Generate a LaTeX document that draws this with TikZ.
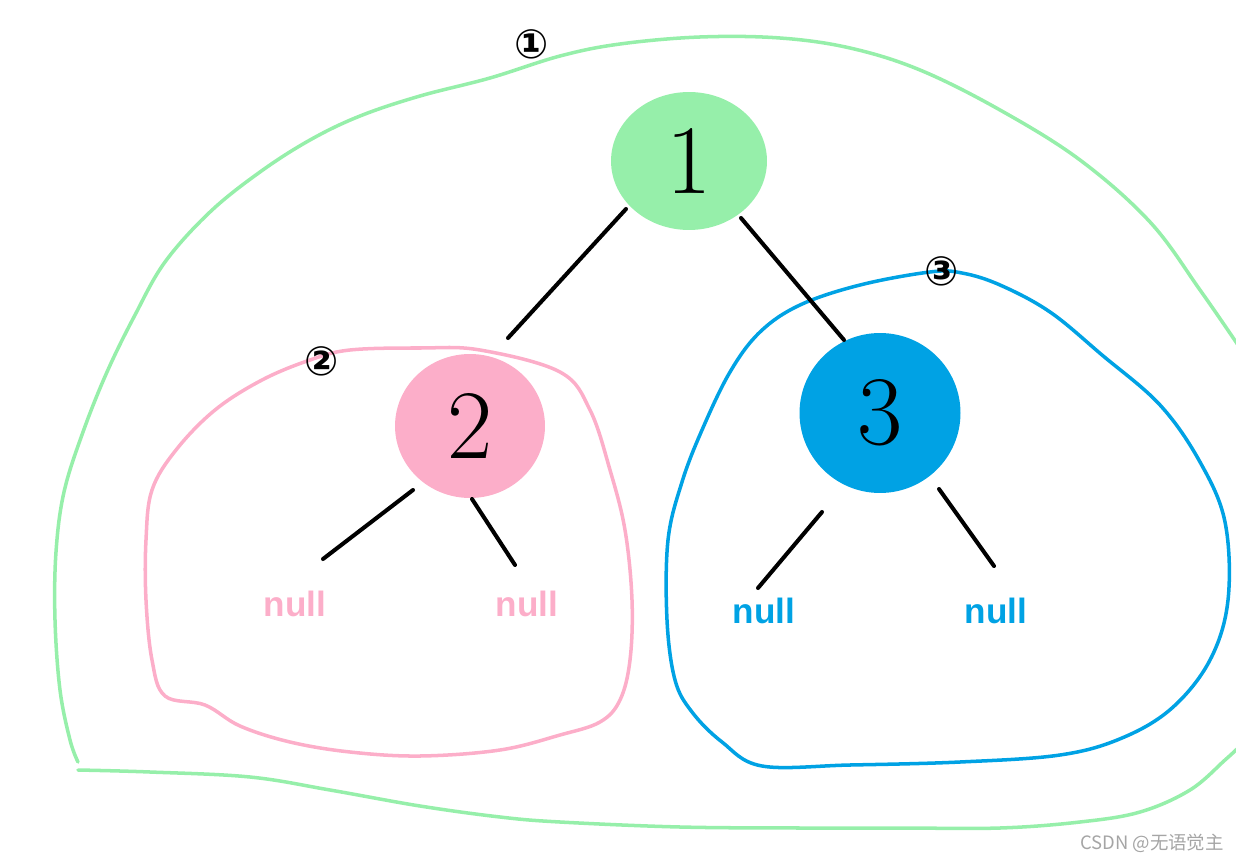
\documentclass[tikz,border=0pt]{standalone}
\usepackage{fontspec}
\usetikzlibrary{shapes.geometric}
\newfontfamily\leaffont{Liberation Sans}
\newfontfamily\cjkfont{Noto Sans CJK SC}
\newfontfamily\symfont{DejaVu Sans}
\definecolor{treegreen}{RGB}{150,239,170}
\definecolor{treepink}{RGB}{252,174,201}
\definecolor{treeblue}{RGB}{0,162,228}
\definecolor{markgray}{RGB}{165,165,165}

\begin{document}
\begin{tikzpicture}[
    x={(0.02cm,0cm)}, y={(0cm,-0.02cm)},
    line cap=round,
    line join=round,
    edge/.style={line width=2.3pt, black},
    blob/.style={line width=2pt},
    treenode/.style={ellipse, inner sep=0pt, font=\fontsize{56}{60}\selectfont},
    nulltext/.style={font=\leaffont\bfseries\fontsize{20}{24}\selectfont, inner sep=2pt},
    tag/.style={font=\symfont\bfseries\fontsize{23}{26}\selectfont, inner sep=0pt}
]
\useasboundingbox (0,0) rectangle (1236,861);

% outlines
\draw[blob, treegreen] plot[smooth, tension=0.6] coordinates {
    (1238,345) (1200,290) (1150,222) (1080,160) (1000,110) (920,70)
    (850,48) (780,38) (700,37) (620,44) (560,56) (490,78) (420,96)
    (360,116) (310,140) (260,172) (210,212) (165,262) (135,315)
    (107,372) (83,432) (64,492) (56,552) (55,620) (60,690) (70,740) (78,762)};
\draw[blob, treegreen] plot[smooth, tension=0.6] coordinates {
    (78,770) (150,772) (250,777) (330,790) (420,806) (500,817) (560,822)
    (680,827) (800,828) (900,828) (1000,828) (1080,822) (1140,812)
    (1190,790) (1225,760) (1238,748)};
\draw[blob, treepink] plot[smooth cycle, tension=0.6] coordinates {
    (350,350) (420,348) (480,350) (560,372) (590,410) (610,470) (625,530)
    (632,600) (630,660) (620,700) (600,722) (560,735) (500,750) (420,756)
    (350,752) (290,742) (240,726) (205,705) (165,696) (152,660) (146,600)
    (146,540) (152,490) (176,450) (215,410) (262,380) (310,360)};
\draw[blob, treeblue] plot[smooth cycle, tension=0.6] coordinates {
    (930,272) (860,285) (800,305) (760,332) (730,372) (702,430) (682,482)
    (668,540) (667,620) (675,680) (692,712) (722,742) (762,766) (850,765)
    (960,762) (1060,755) (1122,738) (1172,708) (1210,660) (1228,600)
    (1225,522) (1200,462) (1160,405) (1102,355) (1050,312) (1000,285) (962,273)};

% nodes
\node[treenode, fill=treegreen, minimum width=3.12cm, minimum height=2.76cm] (n1) at (689,161) {1};
\node[treenode, fill=treepink, minimum width=3cm, minimum height=2.88cm] (n2) at (470,426) {2};
\node[treenode, fill=treeblue, minimum width=3.22cm, minimum height=3.2cm] (n3) at (880,413) {3};

\node[nulltext, text=treepink] (nl2) at (295,604) {null};
\node[nulltext, text=treepink] (nr2) at (527,604) {null};
\node[nulltext, text=treeblue] (nl3) at (764,611) {null};
\node[nulltext, text=treeblue] (nr3) at (996,611) {null};

% edges
\draw[edge] ([shift={(-63,48)}]n1.center) -- ([shift={(38,-88)}]n2.center);
\draw[edge] ([shift={(52,57)}]n1.center) -- ([shift={(-36,-73)}]n3.center);
\draw[edge] ([shift={(-57,64)}]n2.center) -- ([shift={(28,-45)}]nl2.center);
\draw[edge] ([shift={(2,73)}]n2.center) -- ([shift={(-12,-39)}]nr2.center);
\draw[edge] ([shift={(-58,99)}]n3.center) -- ([shift={(-6,-23)}]nl3.center);
\draw[edge] ([shift={(59,76)}]n3.center) -- ([shift={(-2,-45)}]nr3.center);

% tags
\node[tag] (t1) at (532,44) {①};
\node[tag] (t2) at (322,361) {②};
\node[tag] (t3) at (942,271) {③};

\node[font=\cjkfont\fontsize{10.5}{12}\selectfont, text=markgray, inner sep=0pt] (mark) at (1152,843) {CSDN @无语觉主};
\end{tikzpicture}
\end{document}
